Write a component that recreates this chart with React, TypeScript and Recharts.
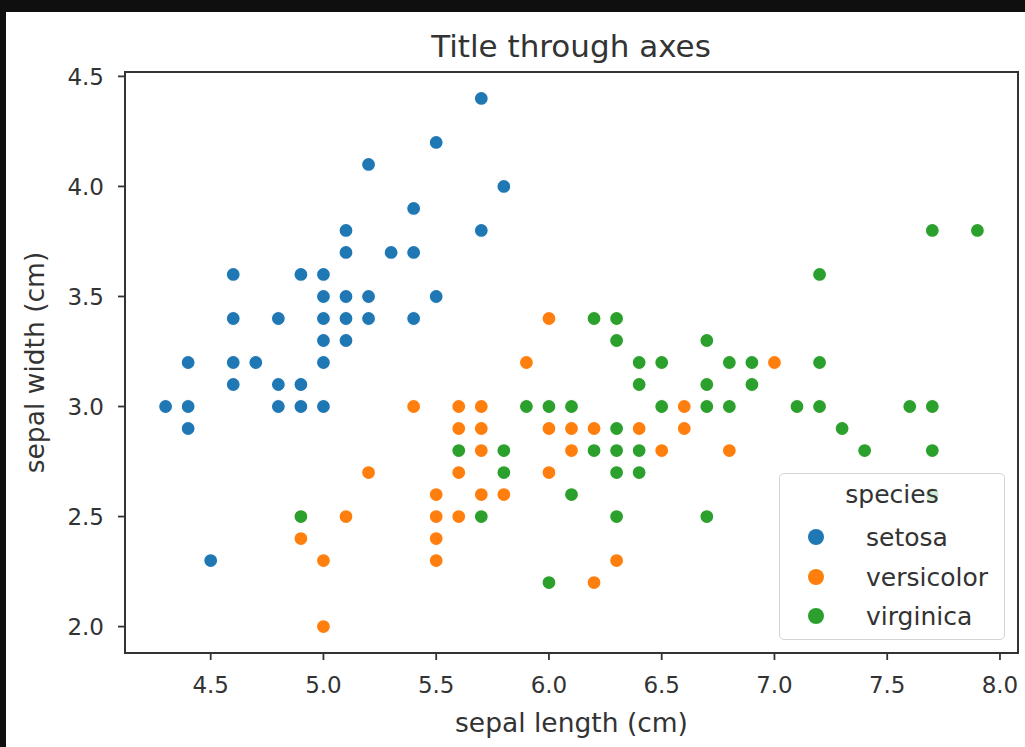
import { ScatterChart, Scatter, XAxis, YAxis, ReferenceArea } from 'recharts';

const FONT = '"DejaVu Sans", sans-serif';
const INK = '#333';

const setosaLength = [5.1, 4.9, 4.7, 4.6, 5.0, 5.4, 4.6, 5.0, 4.4, 4.9, 5.4, 4.8, 4.8, 4.3, 5.8, 5.7, 5.4, 5.1, 5.7, 5.1, 5.4, 5.1, 4.6, 5.1, 4.8, 5.0, 5.0, 5.2, 5.2, 4.7, 4.8, 5.4, 5.2, 5.5, 4.9, 5.0, 5.5, 4.9, 4.4, 5.1, 5.0, 4.5, 4.4, 5.0, 5.1, 4.8, 5.1, 4.6, 5.3, 5.0];
const setosaWidth = [3.5, 3.0, 3.2, 3.1, 3.6, 3.9, 3.4, 3.4, 2.9, 3.1, 3.7, 3.4, 3.0, 3.0, 4.0, 4.4, 3.9, 3.5, 3.8, 3.8, 3.4, 3.7, 3.6, 3.3, 3.4, 3.0, 3.4, 3.5, 3.4, 3.2, 3.1, 3.4, 4.1, 4.2, 3.1, 3.2, 3.5, 3.6, 3.0, 3.4, 3.5, 2.3, 3.2, 3.5, 3.8, 3.0, 3.8, 3.2, 3.7, 3.3];

const versicolorLength = [7.0, 6.4, 6.9, 5.5, 6.5, 5.7, 6.3, 4.9, 6.6, 5.2, 5.0, 5.9, 6.0, 6.1, 5.6, 6.7, 5.6, 5.8, 6.2, 5.6, 5.9, 6.1, 6.3, 6.1, 6.4, 6.6, 6.8, 6.7, 6.0, 5.7, 5.5, 5.5, 5.8, 6.0, 5.4, 6.0, 6.7, 6.3, 5.6, 5.5, 5.5, 6.1, 5.8, 5.0, 5.6, 5.7, 5.7, 6.2, 5.1, 5.7];
const versicolorWidth = [3.2, 3.2, 3.1, 2.3, 2.8, 2.8, 3.3, 2.4, 2.9, 2.7, 2.0, 3.0, 2.2, 2.9, 2.9, 3.1, 3.0, 2.7, 2.2, 2.5, 3.2, 2.8, 2.5, 2.8, 2.9, 3.0, 2.8, 3.0, 2.9, 2.6, 2.4, 2.4, 2.7, 2.7, 3.0, 3.4, 3.1, 2.3, 3.0, 2.5, 2.6, 3.0, 2.6, 2.3, 2.7, 3.0, 2.9, 2.9, 2.5, 2.8];

const virginicaLength = [6.3, 5.8, 7.1, 6.3, 6.5, 7.6, 4.9, 7.3, 6.7, 7.2, 6.5, 6.4, 6.8, 5.7, 5.8, 6.4, 6.5, 7.7, 7.7, 6.0, 6.9, 5.6, 7.7, 6.3, 6.7, 7.2, 6.2, 6.1, 6.4, 7.2, 7.4, 7.9, 6.4, 6.3, 6.1, 7.7, 6.3, 6.4, 6.0, 6.9, 6.7, 6.9, 5.8, 6.8, 6.7, 6.7, 6.3, 6.5, 6.2, 5.9];
const virginicaWidth = [3.3, 2.7, 3.0, 2.9, 3.0, 3.0, 2.5, 2.9, 2.5, 3.6, 3.2, 2.7, 3.0, 2.5, 2.8, 3.2, 3.0, 3.8, 2.6, 2.2, 3.2, 2.8, 2.8, 2.7, 3.3, 3.2, 2.8, 3.0, 2.8, 3.0, 2.8, 3.8, 2.8, 2.8, 2.6, 3.0, 3.4, 3.1, 3.0, 3.1, 3.1, 3.1, 2.7, 3.2, 3.3, 3.0, 2.5, 3.0, 3.4, 3.0];

const xTicks = [4.5, 5.0, 5.5, 6.0, 6.5, 7.0, 7.5, 8.0];
const yTicks = [2.0, 2.5, 3.0, 3.5, 4.0, 4.5];
const xDomain = [4.12, 8.08];
const yDomain = [1.88, 4.52];

const zip = (xs: number[], ys: number[]) => xs.map((x, i) => ({ x, y: ys[i] }));

const species = [
  { name: 'setosa', color: '#1f77b4', data: zip(setosaLength, setosaWidth) },
  { name: 'versicolor', color: '#ff7f0e', data: zip(versicolorLength, versicolorWidth) },
  { name: 'virginica', color: '#2ca02c', data: zip(virginicaLength, virginicaWidth) },
];

const Dot = (color: string) => (props: any) => (
  <circle cx={props.cx} cy={props.cy} r={7} fill={color} stroke="#fff" strokeWidth={1.2} />
);

const YLabel = ({ viewBox }: any) => {
  const cy = viewBox.y + viewBox.height / 2;
  return (
    <text
      x={44}
      y={cy}
      transform={`rotate(-90, 44, ${cy})`}
      textAnchor="middle"
      fontSize={26.5}
      fontFamily={FONT}
      fill={INK}
    >
      sepal width (cm)
    </text>
  );
};

function SpeciesLegend() {
  const rows = [64, 104, 143];
  return (
    <div
      style={{
        position: 'absolute',
        left: 779,
        top: 473,
        width: 226,
        height: 167,
        boxSizing: 'border-box',
        border: '1.5px solid #d4d4d4',
        borderRadius: 5,
        background: 'rgba(255,255,255,0.8)',
      }}
    >
      <svg width={226} height={167} style={{ position: 'absolute', left: -1.5, top: -1.5 }}>
        <text x={113} y={30} textAnchor="middle" fontSize={25} fontFamily={FONT} fill={INK}>
          species
        </text>
        {species.map((s, i) => (
          <g key={s.name}>
            <circle cx={37} cy={rows[i]} r={8} fill={s.color} />
            <text x={87} y={rows[i] + 8.5} fontSize={25} fontFamily={FONT} fill={INK}>
              {s.name}
            </text>
          </g>
        ))}
      </svg>
    </div>
  );
}

export default function App() {
  return (
    <div
      style={{
        position: 'absolute',
        left: 0,
        top: 0,
        width: 1025,
        height: 747,
        background: '#fff',
        overflow: 'hidden',
      }}
    >
      <ScatterChart width={1025} height={747} margin={{ top: 72, right: 7, bottom: 0, left: 65 }}>
        <XAxis
          type="number"
          dataKey="x"
          domain={xDomain}
          ticks={xTicks}
          allowDataOverflow
          height={94}
          tickFormatter={(v: number) => v.toFixed(1)}
          tick={{ fontSize: 23, fill: INK, fontFamily: FONT }}
          tickSize={7}
          tickMargin={17}
          axisLine={{ stroke: INK, strokeWidth: 2 }}
          tickLine={{ stroke: INK, strokeWidth: 1.8 }}
          label={{
            value: 'sepal length (cm)',
            position: 'insideBottom',
            offset: 15,
            fontSize: 26.5,
            fontFamily: FONT,
            fill: INK,
          }}
        />
        <YAxis
          type="number"
          dataKey="y"
          domain={yDomain}
          ticks={yTicks}
          allowDataOverflow
          width={60}
          tickFormatter={(v: number) => v.toFixed(1)}
          tick={{ fontSize: 23, fill: INK, fontFamily: FONT }}
          tickSize={7}
          tickMargin={14}
          axisLine={{ stroke: INK, strokeWidth: 2 }}
          tickLine={{ stroke: INK, strokeWidth: 1.8 }}
          label={{ content: YLabel }}
        />
        <ReferenceArea
          x1={xDomain[0]}
          x2={xDomain[1]}
          y1={yDomain[0]}
          y2={yDomain[1]}
          fill="none"
          fillOpacity={0}
          stroke={INK}
          strokeWidth={2}
          strokeOpacity={1}
        />
        {species.map((s) => (
          <Scatter
            key={s.name}
            name={s.name}
            data={s.data}
            fill={s.color}
            shape={Dot(s.color)}
            isAnimationActive={false}
          />
        ))}
      </ScatterChart>
      <svg width={1025} height={80} style={{ position: 'absolute', left: 0, top: 0 }}>
        <text x={571} y={57} textAnchor="middle" fontSize={31} fontFamily={FONT} fill={INK}>
          Title through axes
        </text>
      </svg>
      <SpeciesLegend />
      <div style={{ position: 'absolute', left: 0, top: 0, width: 1025, height: 12, background: '#0f0f0f' }} />
      <div style={{ position: 'absolute', left: 0, top: 0, width: 6, height: 747, background: '#0f0f0f' }} />
    </div>
  );
}
